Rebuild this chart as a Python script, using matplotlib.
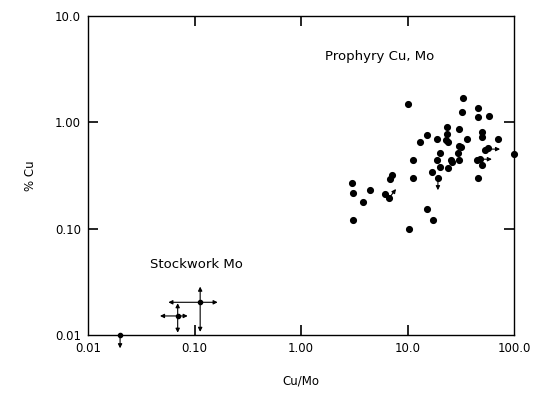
import matplotlib.pyplot as plt
from matplotlib.ticker import FixedLocator, NullLocator

plt.rcParams['font.family'] = ['DejaVu Sans']

# porphyry Cu-Mo deposits
pcu_mo = [10.0, 33.0, 32.5, 46.2, 46.2, 58.6, 23.3, 23.3, 30.5, 15.1,
          13.2, 18.8, 22.8, 23.9, 36.0, 49.7, 50.5, 71.2, 30.5, 31.8,
          11.2, 20.2, 30.0, 19.0, 25.6, 26.4, 30.5, 44.6, 48.0, 50.5,
          53.4, 57.4, 16.9, 20.2, 23.9, 11.2, 19.3, 45.9, 7.2, 6.9,
          3.0, 4.4, 3.08, 6.1, 6.75, 3.85, 3.08, 15.1, 17.3, 10.3, 100.0]
pcu = [1.50, 1.69, 1.26, 1.37, 1.12, 1.14, 0.90, 0.78, 0.87, 0.76,
       0.65, 0.69, 0.68, 0.66, 0.70, 0.72, 0.81, 0.70, 0.60, 0.58,
       0.44, 0.51, 0.51, 0.44, 0.44, 0.42, 0.44, 0.44, 0.45, 0.40,
       0.55, 0.57, 0.34, 0.38, 0.37, 0.30, 0.30, 0.30, 0.32, 0.29,
       0.27, 0.23, 0.215, 0.21, 0.195, 0.18, 0.12, 0.152, 0.12, 0.099, 0.50]

# arrows (limits) for porphyry points: tail -> head
p_arrow_from = [(19.3, 0.30), (57.4, 0.56), (48.0, 0.45), (6.75, 0.195)]
p_arrow_to = [(19.3, 0.23), (74.0, 0.56), (62.0, 0.45), (7.8, 0.236)]

# stockwork Mo deposits
scu_mo = [0.020, 0.0695, 0.113]
scu = [0.010, 0.0151, 0.0203]
# ranges: (left, right, down, up) ; None = no arrow
s_left = [None, 0.0474, 0.0568]
s_right = [None, 0.0863, 0.165]
s_down = [0.0075, 0.0105, 0.0107]
s_up = [None, 0.0199, 0.0285]

xticks = [0.01, 0.1, 1, 10, 100]
xtick_labels = ['0.01', '0.10', '1.00', '10.0', '100.0']
yticks = [0.01, 0.1, 1, 10]
ytick_labels = ['0.01', '0.10', '1.00', '10.0']

fig = plt.figure(figsize=(5.38, 3.97), dpi=100)
ax = fig.add_axes([0.1636, 0.1562, 0.7918, 0.8035])
ax.set_xscale('log')
ax.set_yscale('log')
ax.set_xlim(0.01, 100)
ax.set_ylim(0.01, 10)

ax.scatter(pcu_mo, pcu, s=17, c='k', zorder=3, clip_on=False)
ax.scatter(scu_mo, scu, s=9, c='k', zorder=3, clip_on=False)

aprops = dict(arrowstyle='-|>', lw=0.8, color='k', mutation_scale=6,
              shrinkA=0, shrinkB=0)
for a, b in zip(p_arrow_from, p_arrow_to):
    ax.annotate('', xy=b, xytext=a, arrowprops=aprops, annotation_clip=False)

for i in range(len(scu_mo)):
    x0, y0 = scu_mo[i], scu[i]
    if s_left[i] is not None:
        ax.annotate('', xy=(s_left[i], y0), xytext=(x0, y0), arrowprops=aprops, annotation_clip=False)
    if s_right[i] is not None:
        ax.annotate('', xy=(s_right[i], y0), xytext=(x0, y0), arrowprops=aprops, annotation_clip=False)
    if s_down[i] is not None:
        ax.annotate('', xy=(x0, s_down[i]), xytext=(x0, y0), arrowprops=aprops, annotation_clip=False)
    if s_up[i] is not None:
        ax.annotate('', xy=(x0, s_up[i]), xytext=(x0, y0), arrowprops=aprops, annotation_clip=False)

ax.text(5.5, 4.2, 'Prophyry Cu, Mo', ha='center', va='center', fontsize=9.5)
ax.text(0.105, 0.0456, 'Stockwork Mo', ha='center', va='center', fontsize=9.5)

ax.xaxis.set_major_locator(FixedLocator(xticks))
ax.yaxis.set_major_locator(FixedLocator(yticks))
ax.xaxis.set_minor_locator(NullLocator())
ax.yaxis.set_minor_locator(NullLocator())
ax.set_xticklabels(xtick_labels)
ax.set_yticklabels(ytick_labels)
ax.tick_params(direction='in', length=7, width=1.2, labelsize=8.5, pad=5,
               top=True, right=True)

# no tick marks at the corners
for axis in (ax.xaxis, ax.yaxis):
    ticks = axis.get_major_ticks()
    for t in (ticks[0], ticks[-1]):
        t.tick1line.set_visible(False)
        t.tick2line.set_visible(False)

ax.set_xlabel('Cu/Mo', fontsize=8.5, labelpad=14)
ax.set_ylabel('% Cu', fontsize=8.5, labelpad=13)

for sp in ax.spines.values():
    sp.set_linewidth(1.0)

plt.savefig('out.png', dpi=100)
